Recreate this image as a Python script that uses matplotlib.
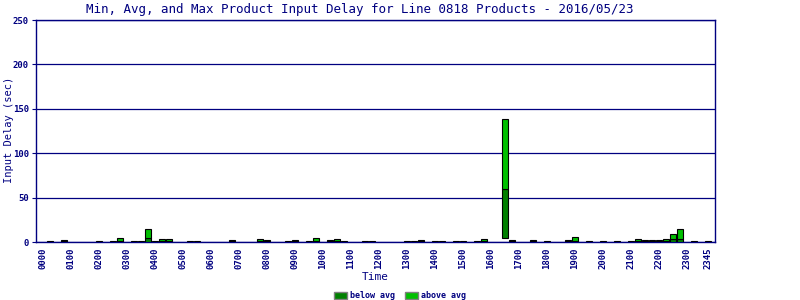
import matplotlib
matplotlib.use("Agg")
import matplotlib.pyplot as plt
from matplotlib.patches import Patch

# 15-minute time slots of the day
slots = [f"{h:02d}{m:02d}" for h in range(24) for m in (0, 15, 30, 45)]
tick_labels = ["0000", "0100", "0200", "0300", "0400", "0500", "0600", "0700",
               "0800", "0900", "1000", "1100", "1200", "1300", "1400", "1500",
               "1600", "1700", "1800", "1900", "2000", "2100", "2200", "2300", "2345"]

# slots that have data, with min / avg / max input delay (sec)
data_times = ["0015", "0045", "0200", "0230", "0245", "0315", "0330", "0345", "0400",
              "0415", "0430", "0515", "0530", "0645", "0745", "0800", "0845", "0900",
              "0930", "0945", "1015", "1030", "1045", "1130", "1145", "1300", "1315",
              "1330", "1400", "1415", "1445", "1500", "1530", "1545", "1630", "1645",
              "1730", "1800", "1845", "1900", "1930", "2000", "2030", "2100", "2115",
              "2130", "2145", "2200", "2215", "2230", "2245", "2315", "2345"]
min_delay = [0, 0, 0, 0, 0, 0, 0, 0, 0,
             0, 0, 0, 0, 0, 0, 0, 0, 0,
             0, 0, 0, 0, 0, 0, 0, 0, 0,
             0, 0, 0, 0, 0, 0, 0, 4.5, 0,
             0, 0, 0, 0, 0, 0, 0, 0, 0,
             0, 0, 0, 0, 0, 0, 0, 0]
avg_delay = [0.5, 1.0, 0.5, 0.5, 1.0, 0.5, 0.5, 4.0, 0.5,
             1.0, 1.0, 0.5, 0.5, 0.8, 1.0, 0.8, 0.5, 0.8,
             0.5, 1.0, 0.8, 1.0, 0.5, 0.5, 0.5, 0.5, 0.5,
             0.8, 0.5, 0.5, 0.5, 0.5, 0.5, 1.0, 59.5, 0.8,
             0.8, 0.5, 0.8, 1.5, 0.5, 0.5, 0.5, 0.5, 1.0,
             1.0, 1.0, 1.0, 1.5, 3.0, 3.5, 0.5, 0.5]
max_delay = [1.2, 2.5, 1.2, 1.2, 4.5, 1.2, 1.2, 14.5, 1.2,
             3.0, 3.0, 1.2, 1.2, 2.0, 3.5, 2.5, 1.2, 2.5,
             1.2, 4.5, 2.5, 3.5, 1.2, 1.2, 1.2, 1.2, 1.2,
             2.5, 1.2, 1.2, 1.2, 1.2, 1.2, 3.5, 138.0, 2.0,
             2.0, 1.2, 2.0, 5.5, 1.2, 1.2, 1.2, 1.2, 3.0,
             2.5, 2.5, 2.5, 3.5, 9.0, 14.5, 1.2, 1.2]

NAVY = "#000080"
DARK = "#008000"
LIGHT = "#00C000"
MONO = "DejaVu Sans Mono"

fig = plt.figure(figsize=(8, 3), dpi=100)
ax = fig.add_axes([36 / 800, 58 / 300, (715 - 36) / 800, (242 - 20) / 300])

xpos = [slots.index(t) for t in data_times]
low_h = [a - m for a, m in zip(avg_delay, min_delay)]
high_h = [mx - a for mx, a in zip(max_delay, avg_delay)]
ax.bar(xpos, low_h, bottom=min_delay, width=0.72, color=DARK,
       edgecolor="black", linewidth=0.8, zorder=3)
ax.bar(xpos, high_h, bottom=avg_delay, width=0.72, color=LIGHT,
       edgecolor="black", linewidth=0.8, zorder=3)

ax.set_xlim(-1, len(slots))
ax.set_ylim(0, 250)
ax.set_yticks([0, 50, 100, 150, 200, 250])
ax.yaxis.grid(True, color=NAVY, linewidth=0.9, zorder=0)
ax.set_axisbelow(True)

tick_pos = [slots.index(t) for t in tick_labels]
ax.set_xticks(tick_pos)
ax.set_xticklabels(tick_labels, rotation=90, family=MONO, fontsize=6.5,
                   color=NAVY, fontweight="bold")
for lab in ax.get_yticklabels():
    lab.set_family(MONO)
    lab.set_fontsize(6.5)
    lab.set_color(NAVY)
    lab.set_fontweight("bold")
ax.tick_params(axis="x", length=0, pad=4)
ax.tick_params(axis="y", length=3, color=NAVY, pad=2)

for s in ax.spines.values():
    s.set_color(NAVY)
    s.set_linewidth(1.0)

ax.set_xlabel("Time", family=MONO, fontsize=8, color=NAVY, labelpad=2)
fig.text(9 / 800, 0.567, "Input Delay (sec)", rotation=90, ha="center", va="center",
         family=MONO, fontsize=7.5, color=NAVY)

fig.text(0.45, 0.967, "Min, Avg, and Max Product Input Delay for Line 0818 Products - 2016/05/23",
         ha="center", va="center", family=MONO, fontsize=9, color=NAVY)

handles = [Patch(facecolor=DARK, edgecolor="#808080", linewidth=1, label="below avg"),
           Patch(facecolor=LIGHT, edgecolor="#808080", linewidth=1, label="above avg")]
leg = fig.legend(handles=handles, loc="lower center", bbox_to_anchor=(0.5, -0.025),
                 ncol=2, frameon=False, handlelength=1.6, handleheight=0.9,
                 handletextpad=0.3, columnspacing=1.2,
                 prop={"family": MONO, "size": 6, "weight": "bold"})
for t in leg.get_texts():
    t.set_color(NAVY)

fig.savefig("out.png", dpi=100)
